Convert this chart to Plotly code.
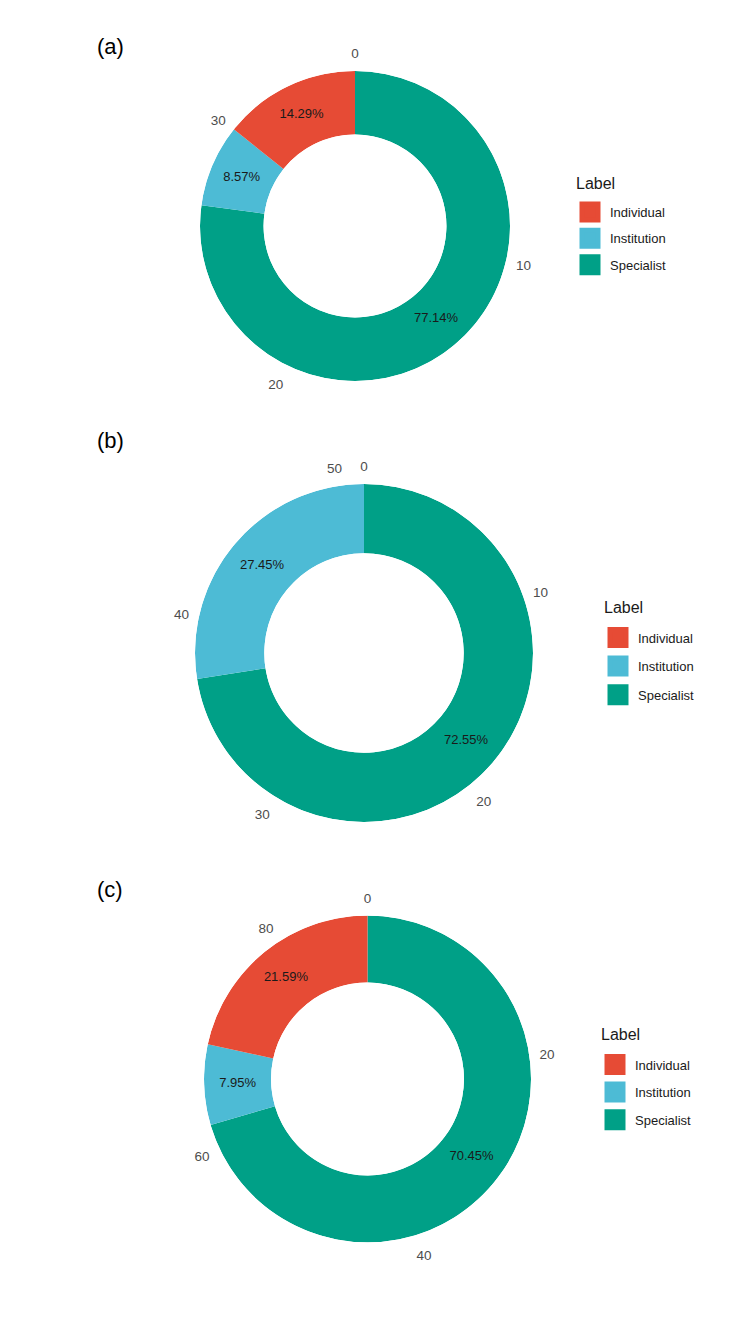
import plotly.graph_objects as go

# ---- data ----
categories = ["Individual", "Institution", "Specialist"]
colors = {"Individual": "#E64B35", "Institution": "#4DBBD5", "Specialist": "#00A087"}
stack_order = ["Specialist", "Institution", "Individual"]  # clockwise from top

counts_a = {"Individual": 5, "Institution": 3, "Specialist": 27}
counts_b = {"Individual": 0, "Institution": 14, "Specialist": 37}
counts_c = {"Individual": 19, "Institution": 7, "Specialist": 62}

ticks_a = [0, 10, 20, 30]
ticks_b = [0, 10, 20, 30, 40, 50]
ticks_c = [0, 20, 40, 60, 80]

panel_labels = ["(a)", "(b)", "(c)"]
legend_title = "Label"

# ---- layout settings ----
W, H = 750, 1333
panels = [
    dict(counts=counts_a, ticks=ticks_a, cx=355, cy=226, R=155,
         leg_x=570, leg_y=197, gap=6.5, title=(574, 183), lab=(110, 47)),
    dict(counts=counts_b, ticks=ticks_b, cx=364, cy=653, R=169,
         leg_x=598, leg_y=622.5, gap=8.7, title=(602, 607), lab=(110, 440)),
    dict(counts=counts_c, ticks=ticks_c, cx=367.5, cy=1079, R=163.5,
         leg_x=595, leg_y=1049.5, gap=7.7, title=(599, 1034), lab=(110, 889)),
]
HOLE = 0.59
FONT = "Liberation Sans, Arial, sans-serif"

fig = go.Figure()
layout_updates = {}
annotations = []

for i, p in enumerate(panels):
    pid = "polar" if i == 0 else f"polar{i+1}"
    lid = "legend" if i == 0 else f"legend{i+1}"
    counts = p["counts"]
    total = sum(counts.values())
    start = {}
    acc = 0
    for c in stack_order:
        start[c] = acc
        acc += counts[c]
    # donut segments
    for c in stack_order:
        n = counts[c]
        if n == 0:
            continue
        fig.add_trace(go.Barpolar(
            r=[1], theta=[(start[c] + n / 2) / total * 360], width=[n / total * 360], base=0,
            marker=dict(color=colors[c], line=dict(width=0)),
            name=c, subplot=pid, showlegend=False, hoverinfo="skip",
        ))
    # legend keys
    for c in categories:
        fig.add_trace(go.Scatterpolar(
            r=[None], theta=[None], mode="markers",
            marker=dict(symbol="square", size=16, color=colors[c],
                        line=dict(width=5, color=colors[c])),
            name=c, subplot=pid, legend=lid, legendgroup=f"{lid}-{c}",
            showlegend=True, hoverinfo="skip",
        ))
    # percentage labels
    txt_theta, txt = [], []
    for c in stack_order:
        n = counts[c]
        if n == 0:
            continue
        txt_theta.append((start[c] + n / 2) / total * 360)
        txt.append(f"{n / total * 100:.2f}%")
    fig.add_trace(go.Scatterpolar(
        r=[0.5] * len(txt), theta=txt_theta, text=txt, mode="text",
        textfont=dict(size=13, color="#1a1a1a", family=FONT),
        subplot=pid, showlegend=False, hoverinfo="skip",
    ))

    cx, cy, R = p["cx"], p["cy"], p["R"]
    layout_updates[pid] = dict(
        domain=dict(x=[(cx - R) / W, (cx + R) / W], y=[1 - (cy + R) / H, 1 - (cy - R) / H]),
        hole=HOLE,
        bgcolor="white",
        radialaxis=dict(visible=False, range=[0, 1]),
        angularaxis=dict(
            rotation=90, direction="clockwise",
            tickmode="array",
            tickvals=[t / total * 360 for t in p["ticks"]],
            ticktext=[str(t) for t in p["ticks"]],
            showgrid=False, showline=False,
            ticks="outside", ticklen=7, tickcolor="rgba(0,0,0,0)",
            tickfont=dict(size=13.5, color="#4D4D4D", family=FONT),
        ),
    )
    layout_updates[lid] = dict(
        x=p["leg_x"] / W, y=1 - p["leg_y"] / H, xanchor="left", yanchor="top",
        font=dict(size=13, color="#1a1a1a", family=FONT),
        bgcolor="rgba(0,0,0,0)",
        traceorder="grouped", tracegroupgap=p["gap"],
        itemsizing="trace",
    )
    annotations.append(dict(
        text=legend_title, x=p["title"][0] / W, y=1 - p["title"][1] / H,
        xref="paper", yref="paper", xanchor="left", yanchor="middle", showarrow=False,
        font=dict(size=16, color="#1a1a1a", family=FONT),
    ))
    annotations.append(dict(
        text=panel_labels[i], x=p["lab"][0] / W, y=1 - p["lab"][1] / H,
        xref="paper", yref="paper", xanchor="center", yanchor="middle", showarrow=False,
        font=dict(size=22, color="black", family=FONT),
    ))

fig.update_layout(
    width=W, height=H,
    margin=dict(l=0, r=0, t=0, b=0),
    paper_bgcolor="white",
    plot_bgcolor="white",
    font=dict(family=FONT),
    annotations=annotations,
    **layout_updates,
)

fig.write_html("out.html")
